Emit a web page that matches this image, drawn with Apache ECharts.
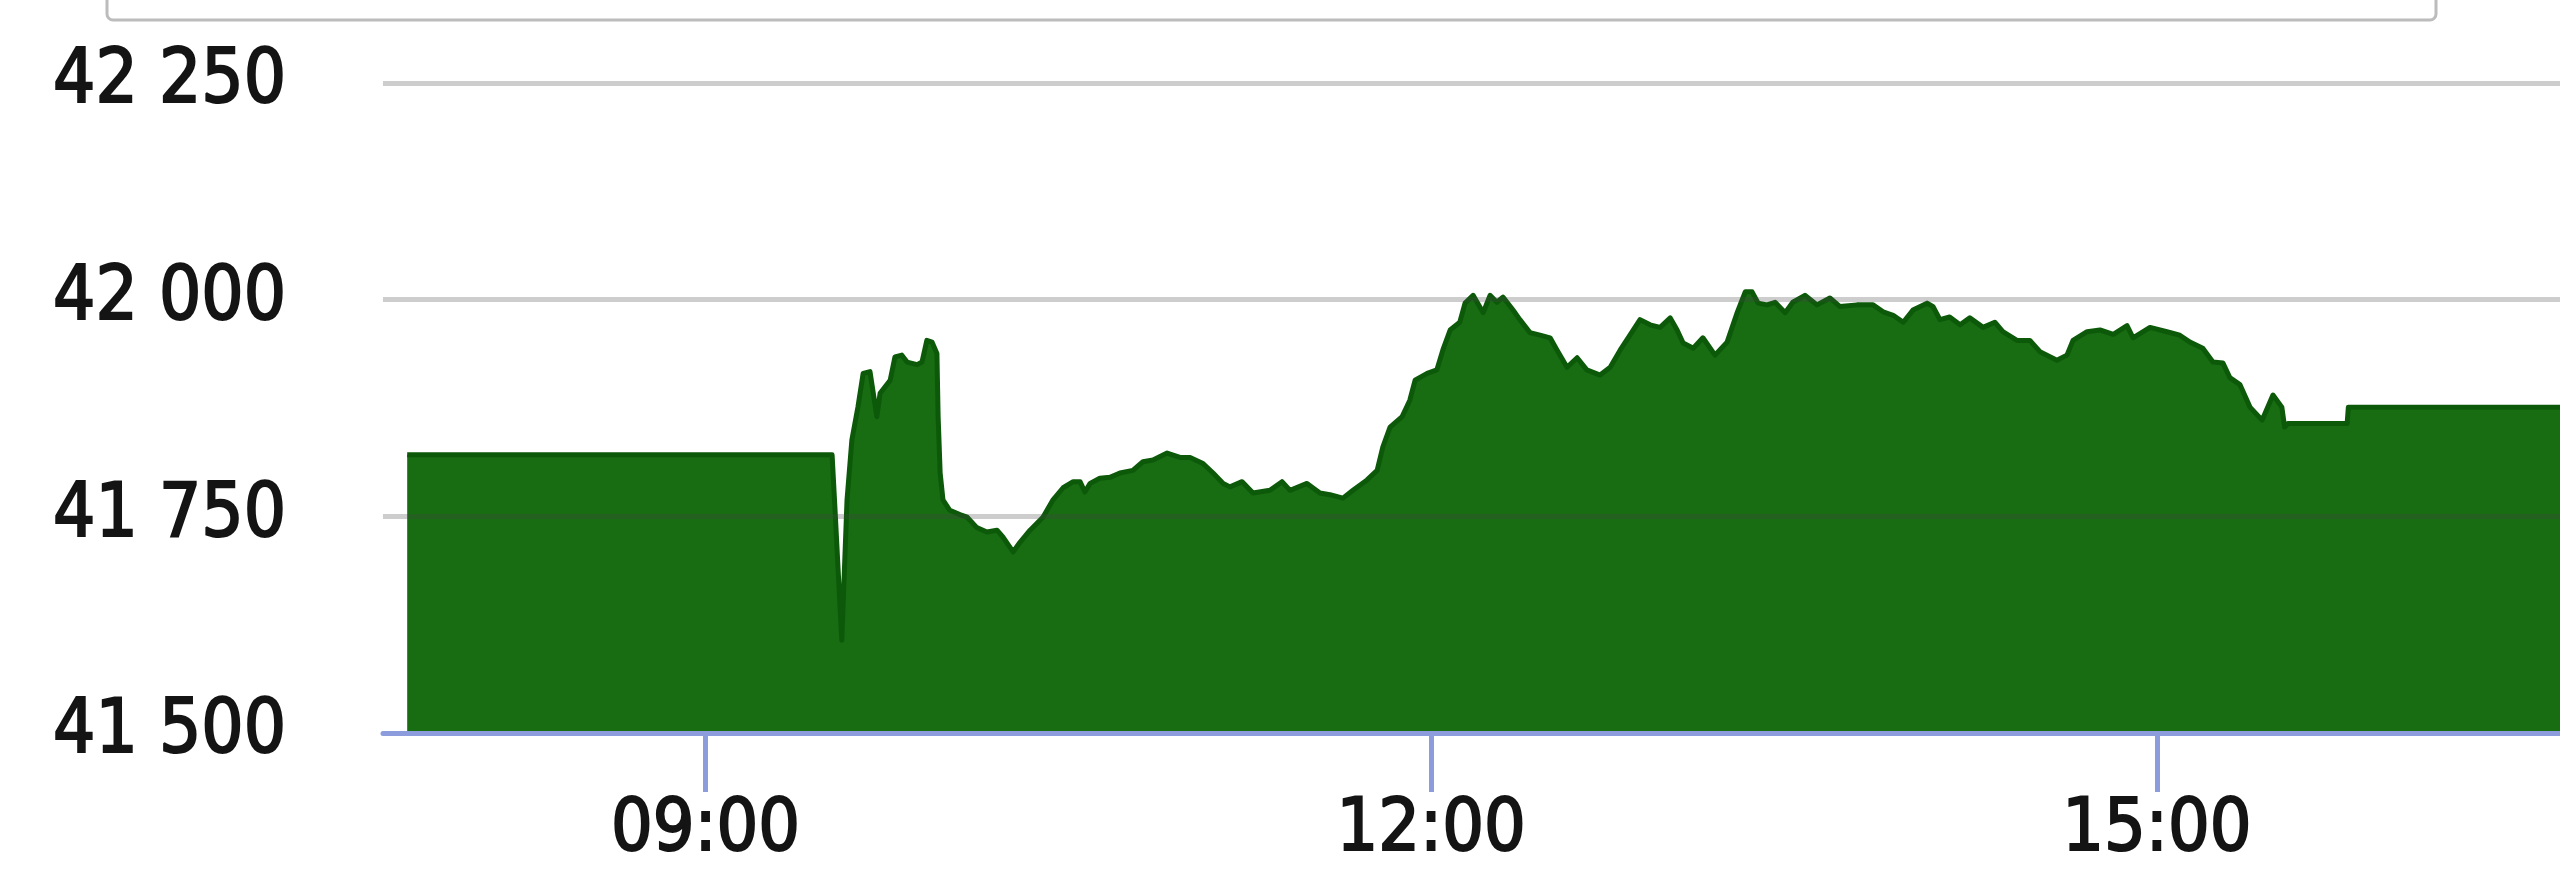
<!DOCTYPE html>
<html>
<head>
<meta charset="utf-8">
<script src="https://cdn.jsdelivr.net/npm/echarts@6/dist/echarts.min.js"></script>
<style>
  html, body { margin: 0; padding: 0; background: #ffffff; }
  #chart { width: 2560px; height: 892px; }
</style>
</head>
<body>
<div id="chart"></div>
<script>
// Time of each point, in minutes since midnight
const minutes = [
  466, 571.4, 572.1, 573.8, 575.1, 576.3, 577.8, 579.1, 580.8, 582.5,
  583.3, 585.8, 587.0, 588.7, 590.0, 592.5, 593.7, 594.9, 596.2, 597.4,
  597.7, 598.2, 598.9, 600.6, 603.1, 604.9, 607.3, 609.8, 612.3, 613.8,
  616.3, 618.0, 620.5, 623.7, 626.2, 628.7, 631.2, 632.9, 634.1, 635.4,
  637.8, 640.3, 642.8, 646.0, 648.5, 651.0, 654.5, 657.7, 660.2, 663.4,
  665.9, 668.4, 670.1, 673.1, 675.8, 680.0, 683.0, 685.0, 689.2, 692.4,
  694.9, 698.1, 700.6, 704.1, 706.6, 708.0, 709.8, 712.8, 714.7, 716.0,
  719.0, 721.4, 722.9, 724.7, 727.1, 728.4, 730.4, 732.9, 734.6, 736.3,
  737.8, 740.3, 742.0, 744.5, 747.0, 749.5, 751.2, 753.7, 756.2, 758.6,
  761.9, 764.4, 766.9, 769.3, 771.8, 774.3, 776.8, 779.3, 781.0, 782.5,
  785.0, 787.4, 790.4, 793.4, 795.9, 797.9, 799.6, 801.1, 803.3, 805.3,
  807.8, 809.7, 812.7, 815.7, 818.9, 821.4, 825.6, 829.6, 832.1, 834.6,
  837.1, 839.5, 843.0, 844.5, 846.2, 848.6, 851.2, 853.6, 856.9, 859.8,
  861.8, 865.3, 868.5, 871.0, 875.2, 877.7, 879.2, 882.7, 885.9, 889.2,
  892.6, 894.1, 898.3, 902.5, 905.7, 908.2, 911.4, 913.9, 916.4, 918.1,
  920.6, 923.1, 926.1, 928.8, 931.0, 931.7, 932.5, 947.2, 947.5, 1000
];

// Index value at each point
const prices = [
  41821, 41821, 41760, 41607, 41769, 41838, 41876, 41915, 41917, 41865,
  41892, 41907, 41934, 41936, 41928, 41925, 41928, 41953, 41951, 41938,
  41865, 41800, 41769, 41757, 41752, 41749, 41737, 41732, 41734, 41726,
  41709, 41720, 41734, 41749, 41769, 41783, 41790, 41790, 41778, 41788,
  41794, 41795, 41800, 41803, 41813, 41815, 41823, 41818, 41818, 41811,
  41800, 41788, 41784, 41790, 41777, 41780, 41790, 41780, 41788, 41777,
  41775, 41771, 41780, 41792, 41803, 41830, 41853, 41865, 41884, 41907,
  41915, 41919, 41942, 41965, 41974, 41996, 42005, 41985, 42005, 41997,
  42003, 41988, 41977, 41962, 41959, 41956, 41942, 41922, 41933, 41919,
  41913, 41922, 41942, 41959, 41977, 41971, 41968, 41979, 41965, 41950,
  41944, 41956, 41936, 41951, 41985, 42009, 42009, 41996, 41994, 41997,
  41985, 41997, 42005, 41994, 42002, 41992, 41994, 41994, 41986, 41982,
  41974, 41988, 41996, 41992, 41977, 41980, 41971, 41979, 41968, 41974,
  41963, 41953, 41953, 41940, 41930, 41936, 41953, 41963, 41965, 41960,
  41970, 41956, 41968, 41963, 41959, 41951, 41944, 41928, 41927, 41910,
  41902, 41876, 41861, 41890, 41876, 41853, 41857, 41857, 41876, 41876
];

// Axis ticks
const xTickMinutes = [540, 720, 900];   // 09:00, 12:00, 15:00
const yTicks = [41500, 41750, 42000, 42250];

const xMin = 460, xMax = 1000;

function pad(n) { return (n < 10 ? '0' : '') + n; }
function fmtTime(m) { return pad(Math.floor(m / 60)) + ':' + pad(Math.round(m % 60)); }
function fmtNum(v) { return String(v).replace(/\B(?=(\d{3})+(?!\d))/g, ' '); }

const FONT = "'DejaVu Sans Condensed', 'Liberation Sans', sans-serif";
const AXIS_BLUE = '#8c9cdc';
const TEXT = '#141414';

const chart = echarts.init(document.getElementById('chart'), null, { renderer: 'canvas' });

const data = minutes.map((m, i) => [m, prices[i]]);

chart.setOption({
  animation: false,
  backgroundColor: '#ffffff',
  grid: { left: 383, right: 0, top: 83, bottom: 892 - 733 },
  graphic: [{
    type: 'rect',
    z: 10,
    shape: { x: 107, y: -40, width: 2329, height: 60, r: 6 },
    style: { fill: 'none', stroke: '#bcbcbc', lineWidth: 3 }
  }],
  xAxis: {
    type: 'value',
    min: xMin,
    max: xMax,
    z: 3,
    splitLine: { show: false },
    axisLine: { show: true, lineStyle: { color: AXIS_BLUE, width: 5 } },
    axisTick: {
      show: true,
      customValues: xTickMinutes,
      length: 59,
      lineStyle: { color: AXIS_BLUE, width: 5 }
    },
    axisLabel: {
      customValues: xTickMinutes,
      formatter: fmtTime,
      margin: 62,
      fontSize: 73,
      fontFamily: FONT,
      color: TEXT,
      textBorderColor: TEXT,
      textBorderWidth: 2
    }
  },
  yAxis: {
    type: 'value',
    min: yTicks[0],
    max: yTicks[yTicks.length - 1],
    interval: 250,
    z: 3,
    axisLine: { show: false },
    axisTick: { show: false },
    splitLine: { show: true, lineStyle: { color: 'rgba(70,70,70,0.27)', width: 5 } },
    axisLabel: {
      formatter: fmtNum,
      margin: 97,
      fontSize: 74,
      fontFamily: FONT,
      color: TEXT,
      textBorderColor: TEXT,
      textBorderWidth: 2,
      padding: [0, 0, 16, 0]
    }
  },
  series: [{
    type: 'line',
    data: data,
    showSymbol: false,
    symbol: 'none',
    smooth: false,
    lineStyle: { color: '#0c5a09', width: 5, join: 'round' },
    itemStyle: { color: '#0c5a09' },
    areaStyle: { color: '#186c12', opacity: 1, origin: 'start' },
    z: 2
  }]
});
</script>
</body>
</html>
